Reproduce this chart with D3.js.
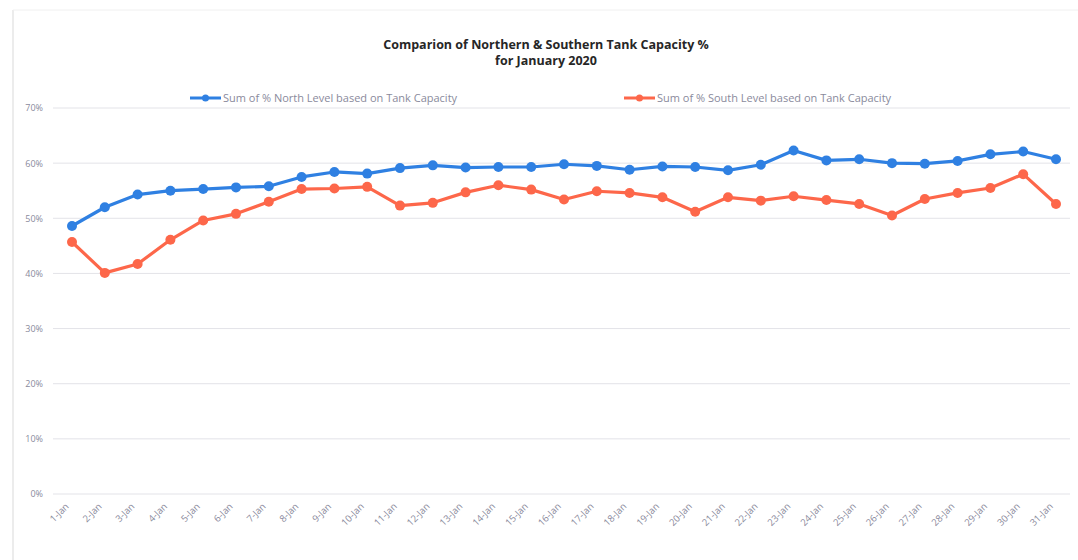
<!DOCTYPE html>
<html>
<head>
<meta charset="utf-8">
<script src="https://cdn.jsdelivr.net/npm/d3@7"></script>
<style>
  body { margin: 0; background: #fff; }
  svg { display: block; font-family: "Open Sans", sans-serif; }
</style>
</head>
<body>
<div id="chart"></div>
<script>
// days of January 2020
var days = ["1-Jan","2-Jan","3-Jan","4-Jan","5-Jan","6-Jan","7-Jan","8-Jan","9-Jan","10-Jan",
  "11-Jan","12-Jan","13-Jan","14-Jan","15-Jan","16-Jan","17-Jan","18-Jan","19-Jan","20-Jan",
  "21-Jan","22-Jan","23-Jan","24-Jan","25-Jan","26-Jan","27-Jan","28-Jan","29-Jan","30-Jan","31-Jan"];

// % of tank capacity
var northLevel = [48.6, 52.0, 54.3, 55.0, 55.3, 55.6, 55.8, 57.5, 58.4, 58.1,
  59.1, 59.6, 59.2, 59.3, 59.3, 59.8, 59.5, 58.8, 59.4, 59.3,
  58.7, 59.7, 62.3, 60.5, 60.7, 60.0, 59.9, 60.4, 61.6, 62.1, 60.7];
var southLevel = [45.7, 40.1, 41.7, 46.1, 49.6, 50.8, 53.0, 55.3, 55.4, 55.7,
  52.3, 52.8, 54.7, 56.0, 55.2, 53.4, 54.9, 54.6, 53.8, 51.2,
  53.8, 53.2, 54.0, 53.3, 52.6, 50.5, 53.5, 54.6, 55.5, 58.0, 52.6];

var yTicks = [0, 10, 20, 30, 40, 50, 60, 70];
var seriesNames = ["Sum of % North Level based on Tank Capacity", "Sum of % South Level based on Tank Capacity"];
var seriesColors = ["#2f80e2", "#fd674a"];

var w = 1078, h = 560;
var svg = d3.select("#chart").append("svg")
  .attr("width", w)
  .attr("height", h);

// faint frame of the chart area
svg.append("line").attr("x1", 13).attr("x2", 13).attr("y1", 10).attr("y2", h)
  .attr("stroke", "#e6e6e6").attr("stroke-width", 1.5);
svg.append("line").attr("x1", 13).attr("x2", w).attr("y1", 10).attr("y2", 10)
  .attr("stroke", "#f0f0f0");

var xScale = d3.scalePoint()
  .domain(days)
  .range([72, 1056]);

var yScale = d3.scaleLinear()
  .domain([0, 70])
  .range([494, 108]);

// gridlines
svg.append("g").selectAll("line")
  .data(yTicks)
  .enter().append("line")
  .attr("x1", 53).attr("x2", 1070)
  .attr("y1", d => yScale(d)).attr("y2", d => yScale(d))
  .attr("stroke", "#e3e3e8")
  .attr("stroke-width", 1);

// y axis labels
var yAxis = d3.axisLeft(yScale)
  .tickValues(yTicks)
  .tickFormat(d => d + "%")
  .tickSize(0)
  .tickPadding(0);
var yG = svg.append("g")
  .attr("transform", "translate(43,0)")
  .call(yAxis);
yG.select(".domain").remove();
yG.selectAll("text")
  .attr("fill", "#8a8a9c")
  .attr("font-size", 9)
  .attr("font-family", "Open Sans, sans-serif");

// x axis labels
var xAxis = d3.axisBottom(xScale).tickSize(0).tickPadding(0);
var xG = svg.append("g")
  .attr("transform", "translate(0,504)")
  .call(xAxis);
xG.select(".domain").remove();
xG.selectAll("text")
  .attr("fill", "#8a8a9c")
  .attr("font-size", 9.5)
  .attr("font-family", "Open Sans, sans-serif")
  .attr("dy", 0)
  .attr("text-anchor", "end")
  .attr("transform", "translate(-3,3) rotate(-45)");

// lines
var series = [northLevel, southLevel];
var line = d3.line()
  .x((d, i) => xScale(days[i]))
  .y(d => yScale(d));

series.forEach(function(vals, k) {
  svg.append("path")
    .datum(vals)
    .attr("d", line)
    .attr("fill", "none")
    .attr("stroke", seriesColors[k])
    .attr("stroke-width", 3.2)
    .attr("stroke-linejoin", "round");
  svg.append("g").selectAll("circle")
    .data(vals)
    .enter().append("circle")
    .attr("cx", (d, i) => xScale(days[i]))
    .attr("cy", d => yScale(d))
    .attr("r", 5)
    .attr("fill", seriesColors[k]);
});

// title
var title = svg.append("text")
  .attr("x", 546)
  .attr("text-anchor", "middle")
  .attr("font-weight", "bold")
  .attr("font-size", 12.5)
  .attr("fill", "#262626");
title.append("tspan").attr("x", 546).attr("y", 49).text("Comparion of Northern & Southern Tank Capacity %");
title.append("tspan").attr("x", 546).attr("y", 65).text("for January 2020");

// legend
var legendX = [190, 624];
seriesNames.forEach(function(name, k) {
  var g = svg.append("g").attr("transform", "translate(" + legendX[k] + ",98)");
  g.append("line").attr("x1", 0).attr("x2", 31).attr("y1", 0).attr("y2", 0)
    .attr("stroke", seriesColors[k]).attr("stroke-width", 3);
  g.append("circle").attr("cx", 15.5).attr("cy", 0).attr("r", 3.5).attr("fill", seriesColors[k]);
  g.append("text")
    .attr("x", 33)
    .attr("y", 4)
    .attr("font-size", 11)
    .attr("fill", "#8a8a9c")
    .text(name);
});
</script>
</body>
</html>
